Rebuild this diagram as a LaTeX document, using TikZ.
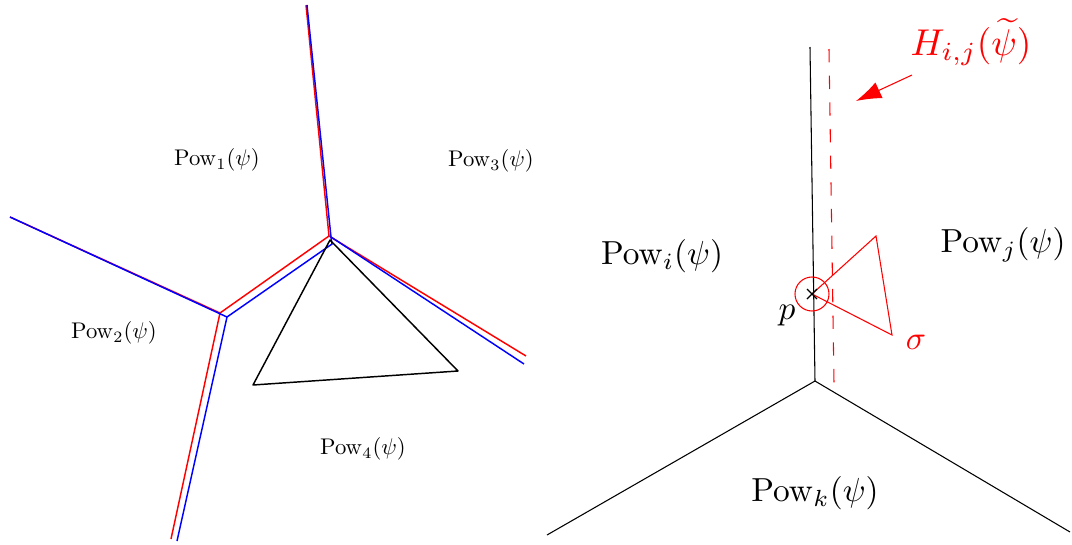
\documentclass[tikz,border=0pt]{standalone}
\usepackage{amsmath}
\usepackage{tikz}
\usetikzlibrary{arrows.meta,calc}

\begin{document}
\begin{tikzpicture}[
      x=0.75pt, y=-0.75pt,
      cellLeft/.style={scale=1.7},
      cellRight/.style={scale=2.5},
      redEdge/.style={red, line width=1.1pt},
      blueEdge/.style={blue, line width=1.1pt},
      simplex/.style={black, line width=1.1pt, line join=round},
      cellEdge/.style={black, line width=0.8pt},
      hyperplane/.style={red, line width=0.8pt, dash pattern=on 10pt off 10pt}
    ]
      \useasboundingbox (0,0) rectangle (1072,544);

      % ---------- left: two power diagrams ----------
      \coordinate (rTop) at (306,5);
      \coordinate (rMid) at (329,236);
      \coordinate (rLeft) at (220,313);
      \coordinate (rBot) at (171,539);
      \coordinate (rRight) at (526,356);
      \coordinate (farLeft) at (10,217);

      \coordinate (bTop) at (307,5);
      \coordinate (bMid) at (331,237);
      \coordinate (bMidLow) at (332,244);
      \coordinate (bLeft) at (227,317);
      \coordinate (bBot) at (177,541);
      \coordinate (bRight) at (524,364);

      \draw[redEdge] (rTop) -- (rMid) -- (rLeft) -- (rBot);
      \draw[redEdge] (rMid) -- (rRight);
      \draw[redEdge] (farLeft) -- (rLeft);

      \draw[blueEdge] (bTop) -- (bMid) -- (bMidLow) -- (bLeft) -- (bBot);
      \draw[blueEdge] (bMid) -- (bRight);
      \draw[blueEdge] (farLeft) -- (bLeft);

      % triangle
      \draw[simplex] (330,240) -- (253,385) -- (458,371) -- cycle;

      \node[cellLeft] (pow1) at (217,160) {$\mathrm{Pow}_1(\psi)$};
      \node[cellLeft] (pow3) at (491,161) {$\mathrm{Pow}_3(\psi)$};
      \node[cellLeft] (pow2) at (114,333) {$\mathrm{Pow}_2(\psi)$};
      \node[cellLeft] (pow4) at (363,449) {$\mathrm{Pow}_4(\psi)$};

      % ---------- right: cells i, j, k ----------
      \coordinate (ijTop) at (810,47);
      \coordinate (ijk) at (815,381);
      \draw[cellEdge] (ijTop) -- (ijk);
      \draw[cellEdge] (ijk) -- (547,535);
      \draw[cellEdge] (ijk) -- (1070,532);

      \draw[hyperplane] (829,49) -- (834,383);

      % point p and simplex sigma
      \coordinate (p) at (812,294);
      \draw[red, line width=0.8pt] (p) -- (876,236) -- (892,335) -- cycle;
      \draw[red, line width=0.8pt] (p) circle (17);
      \draw[black, line width=0.9pt] ($(p)+(-5,-5)$) -- ($(p)+(5,5)$)
        ($(p)+(-5,5)$) -- ($(p)+(5,-5)$);

      \node[cellRight] (powi) at (662,256) {$\mathrm{Pow}_i(\psi)$};
      \node[cellRight] (powj) at (1003,245) {$\mathrm{Pow}_j(\psi)$};
      \node[cellRight] (powk) at (815,493) {$\mathrm{Pow}_k(\psi)$};
      \node[cellRight] (plbl) at (787,316) {$p$};
      \node[cellRight, red] (sigmalbl) at (916,342) {$\sigma$};

      \node[scale=2.8, red] (hlbl) at (971,42) {$H_{i,j}(\widetilde{\psi})$};
      \draw[red, line width=0.8pt, -{Latex[length=19pt,width=13pt]}] (912,75) -- (856,101);

    \end{tikzpicture}
\end{document}
